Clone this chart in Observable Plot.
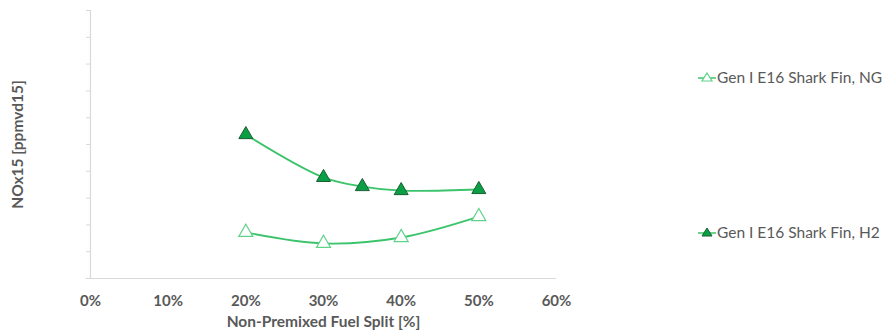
<!DOCTYPE html>
<html><head><meta charset="utf-8">
<script src="https://cdn.jsdelivr.net/npm/d3@7"></script>
<script src="https://cdn.jsdelivr.net/npm/@observablehq/plot@0.6"></script>
<style>
body{margin:0;background:#fff;font-family:Lato,"Open Sans",sans-serif;}
#wrap{position:relative;width:883px;height:335px;}
.leg{position:absolute;left:698px;font-size:15.5px;color:#595959;display:flex;align-items:center;white-space:nowrap;}
</style></head>
<body><div id="wrap"></div>
<script>
const splits = [0.20, 0.30, 0.35, 0.40, 0.50];
const h2Values = [5.37, 3.77, 3.43, 3.28, 3.32];
const ngSplits = [0.20, 0.30, 0.40, 0.50];
const ngValues = [1.72, 1.31, 1.53, 2.31];
const xTicks = [0, 0.1, 0.2, 0.3, 0.4, 0.5, 0.6];
const yTicks = [0,1,2,3,4,5,6,7,8,9,10];
const seriesNames = ["Gen I E16 Shark Fin, NG", "Gen I E16 Shark Fin, H2"];

const h2 = splits.map((x,i)=>({x, y:h2Values[i]}));
const ng = ngSplits.map((x,i)=>({x, y:ngValues[i]}));
const lineColor = "#3cc46c";

const chart = Plot.plot({
  width: 883, height: 335,
  marginLeft: 90, marginRight: 327, marginTop: 10, marginBottom: 57,
  style: {fontFamily: "Lato, 'Open Sans', sans-serif", color: "#595959"},
  x: {domain: [0, 0.6], ticks: xTicks, tickFormat: d3.format(".0%")},
  y: {domain: [0, 10], ticks: yTicks},
  marks: [
    Plot.axisY({ticks: yTicks, tickFormat: () => "", tickSize: 4, stroke: "#d9d9d9", label: null}),
    Plot.axisX({ticks: xTicks, tickFormat: d3.format(".0%"), tickSize: 0, tickPadding: 17, fontSize: 15, fontWeight: "bold", label: null}),
    Plot.ruleX([0], {stroke: "#d9d9d9", strokeWidth: 1.2}),
    Plot.ruleY([0], {stroke: "#d9d9d9", strokeWidth: 1.2, x1: -0.006, x2: 0.6}),
    Plot.line(ng, {x: "x", y: "y", curve: "catmull-rom", stroke: lineColor, strokeWidth: 1.8}),
    Plot.line(h2, {x: "x", y: "y", curve: "catmull-rom", stroke: lineColor, strokeWidth: 1.8}),
    Plot.dot(ng, {x: "x", y: "y", symbol: "triangle", r: 5.2, fill: "white", stroke: "#5fd38a", strokeWidth: 1.2}),
    Plot.dot(h2, {x: "x", y: "y", symbol: "triangle", r: 5.2, fill: "#0a9e45", stroke: "#1b5e33", strokeWidth: 1}),
    Plot.text(["Non-Premixed Fuel Split [%]"], {frameAnchor: "bottom", dy: 48, fontSize: 15.5, fontWeight: "bold", fill: "#595959"}),
    Plot.text(["NOx15 [ppmvd15]"], {frameAnchor: "left", dx: -72, rotate: -90, textAnchor: "middle", fontSize: 15.5, fontWeight: "bold", fill: "#595959"})
  ]
});
const wrap = document.getElementById("wrap");
wrap.appendChild(chart);

function legend(name, top, filled){
  const d = document.createElement("div");
  d.className = "leg";
  d.style.top = top + "px";
  const sym = filled
    ? '<path d="M9,2 L14,10 L4,10 Z" fill="#0a9e45" stroke="#1b5e33" stroke-width="1"/>'
    : '<path d="M9,2 L14,10 L4,10 Z" fill="white" stroke="#5fd38a" stroke-width="1.2"/>';
  d.innerHTML = '<svg width="18" height="12" style="margin-right:1px"><line x1="0" y1="7" x2="18" y2="7" stroke="'+lineColor+'" stroke-width="1.5"/>' + sym + '</svg><span>' + name + '</span>';
  wrap.appendChild(d);
}
legend(seriesNames[0], 68, false);
legend(seriesNames[1], 223, true);
</script></body></html>
